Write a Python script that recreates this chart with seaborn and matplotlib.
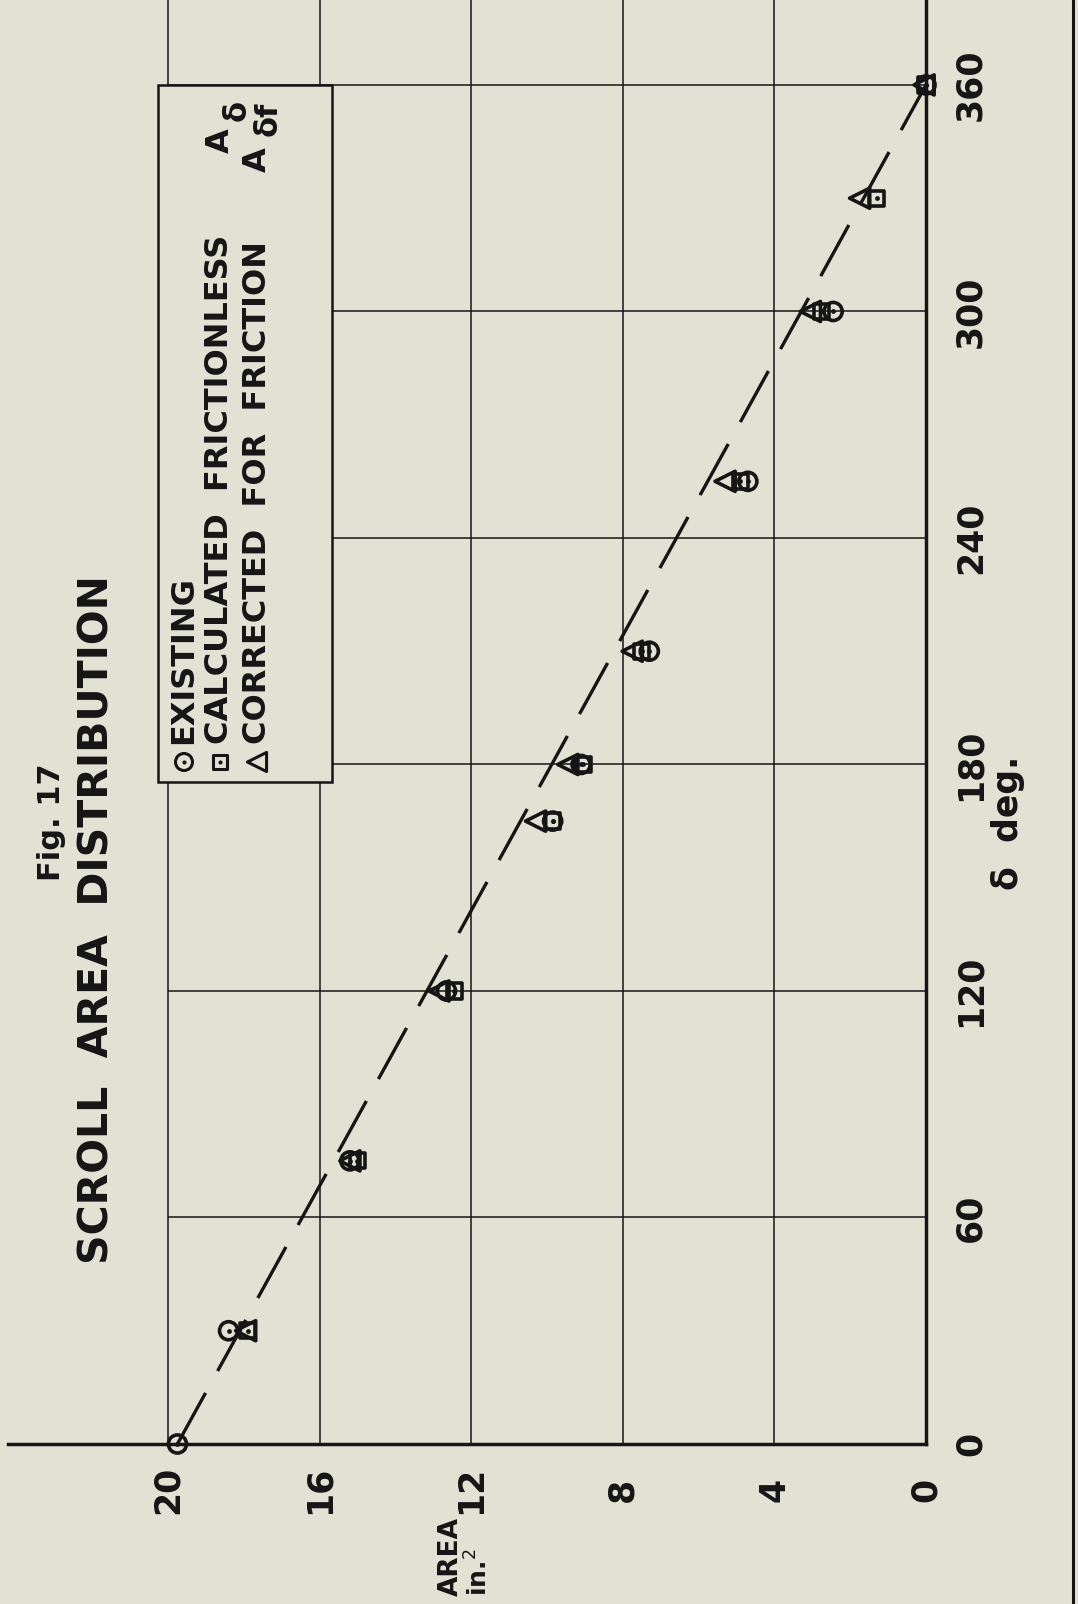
import matplotlib
matplotlib.use("Agg")
import matplotlib.pyplot as plt
from matplotlib.lines import Line2D
from matplotlib.patches import Rectangle
import seaborn as sns
import pandas as pd

# Scroll angle (deg) and cross-section area (sq. in.) for each series
delta_existing = [0, 30, 75, 120, 165, 180, 210, 255, 300, 360]
area_existing = [19.75, 18.4, 15.2, 12.65, 9.85, 9.1, 7.3, 4.7, 2.45, 0.0]

delta_calc = [30, 75, 120, 165, 180, 210, 255, 300, 330, 360]
area_calc = [17.9, 15.0, 12.45, 9.85, 9.05, 7.5, 4.9, 2.75, 1.3, 0.0]

delta_corr = [30, 75, 120, 165, 180, 210, 255, 300, 330, 360]
area_corr = [17.95, 15.2, 12.85, 10.3, 9.45, 7.75, 5.3, 3.05, 1.75, 0.05]

# straight design line from the inlet area down to zero at 360 deg
delta_line = [0, 360]
area_line = [19.75, 0.0]

area_ticks = [0, 4, 8, 12, 16, 20]
area_ticklabels = ["0", "4", "8", "12", "16", "20"]
delta_ticks = [0, 60, 120, 180, 240, 300, 360]
delta_ticklabels = ["0", "60", "120", "180", "240", "300", "360"]

legend_labels = ["EXISTING", "CALCULATED  FRICTIONLESS", "CORRECTED  FOR  FRICTION"]
legend_symbols = [None, ("A", "\u03b4"), ("A", "\u03b4f")]

BG = "#e1e2d4"
INK = "#151515"

sns.set_style("white")
plt.rcParams["font.family"] = ["DejaVu Sans"]

W, H = 1078, 1604
fig = plt.figure(figsize=(W / 100, H / 100), dpi=100, facecolor=BG)
# the sheet is turned: angle runs up the page, area runs right-to-left
ax = fig.add_axes([8 / W, 160 / H, 918 / W, 1444 / H])
ax.set_facecolor(BG)
ax.set_xlim(24.22, 0)
ax.set_ylim(0, 382.5)


def ax_x(px):
    return (px - 8) / 918


def ax_y(py):
    return (1444 - py) / 1444


for side in ["left", "top"]:
    ax.spines[side].set_visible(False)
for side in ["bottom", "right"]:
    ax.spines[side].set_color(INK)
    ax.spines[side].set_linewidth(2.5)

# grid: area lines run the full height, angle lines stop at area 20
ax.set_xticks(area_ticks)
ax.grid(axis="x", color=INK, linewidth=1.1)
ax.grid(axis="y", visible=False)
ax.hlines(delta_ticks[1:], 0, 20, color=INK, linewidth=1.1, zorder=1)

ax.xaxis.set_ticks_position("bottom")
ax.yaxis.tick_right()
ax.set_yticks(delta_ticks)
ax.set_xticklabels(area_ticklabels, rotation=90, fontsize=25, fontweight="bold",
                   color=INK, va="center", ha="center")
ax.set_yticklabels(delta_ticklabels, rotation=90, fontsize=25, fontweight="bold",
                   color=INK, va="center", ha="center")
ax.tick_params(axis="x", length=0, pad=33)
ax.tick_params(axis="y", length=0, pad=32, labelright=True, labelleft=False)

# dashed design line
sns.lineplot(x=area_line, y=delta_line, ax=ax, sort=False, estimator=None,
             color=INK, linewidth=2.4, zorder=3)
ax.lines[-1].set_linestyle((0, (17.5, 7.5)))

# measured / computed points
df_e = pd.DataFrame({"area": area_existing, "delta": delta_existing})
df_c = pd.DataFrame({"area": area_calc, "delta": delta_calc})
df_f = pd.DataFrame({"area": area_corr, "delta": delta_corr})

mk = dict(facecolor="none", edgecolor=INK, linewidth=2.6, zorder=5, clip_on=False)
sns.scatterplot(data=df_f, x="area", y="delta", marker="<", s=210, ax=ax, **mk)
sns.scatterplot(data=df_c, x="area", y="delta", marker="s", s=120, ax=ax, **mk)
sns.scatterplot(data=df_e, x="area", y="delta", marker="o", s=170, ax=ax, **mk)
dot = dict(color=INK, s=12, linewidth=0, zorder=6, clip_on=False)
sns.scatterplot(data=df_c, x="area", y="delta", marker="o", ax=ax, **dot)
sns.scatterplot(data=df_e, x="area", y="delta", marker="o", ax=ax, **dot)
ax.set_xlabel("")
ax.set_ylabel("")

# legend box, lettered sideways like the rest of the sheet
ax.add_patch(Rectangle((ax_x(158), ax_y(782)), ax_x(332) - ax_x(158),
                       ax_y(85) - ax_y(782), transform=ax.transAxes,
                       facecolor=BG, edgecolor=INK, linewidth=1.8, zorder=7))
key_px = [184, 220, 257]
key_styles = [
    dict(marker="o", s=150, dot=True),
    dict(marker="s", s=110, dot=True),
    dict(marker="<", s=190, dot=False),
]
sym_pos = [None, (153, 17, 121), (172, 11, 136)]
for kpx, st, lab, sym, sp in zip(key_px, key_styles, legend_labels,
                                  legend_symbols, sym_pos):
    kx = ax_x(kpx)
    ax.scatter([kx], [ax_y(762)], transform=ax.transAxes, marker=st["marker"],
               s=st["s"], facecolor="none", edgecolor=INK, linewidth=2.2, zorder=8)
    if st["dot"]:
        ax.scatter([kx], [ax_y(762)], transform=ax.transAxes, marker="o", s=9,
                   color=INK, linewidth=0, zorder=9)
    ax.text(kx, ax_y(744), lab, transform=ax.transAxes, rotation=90, ha="center",
            va="bottom", fontsize=23, fontweight="bold", color=INK, zorder=9)
    if sym is not None:
        a_start, dx, d_start = sp
        ax.text(kx, ax_y(a_start), sym[0], transform=ax.transAxes, rotation=90,
                ha="center", va="bottom", fontsize=23, fontweight="bold",
                color=INK, zorder=9)
        ax.text(ax_x(kpx + dx), ax_y(d_start), sym[1], transform=ax.transAxes,
                rotation=90, ha="center", va="bottom", fontsize=22,
                fontweight="bold", color=INK, zorder=9)

# title and axis captions
fig.text(51 / W, 1 - 822 / H, "Fig. 17", rotation=90, ha="center", va="center",
         fontsize=22, fontweight="bold", color=INK)
fig.text(98 / W, 1 - 920 / H, "SCROLL  AREA  DISTRIBUTION", rotation=90, ha="center",
         va="center", fontsize=29.5, fontweight="bold", color=INK)
fig.text(1008 / W, 1 - 823 / H, "\u03b4  deg.", rotation=90, ha="center", va="center",
         fontsize=25, fontweight="bold", color=INK)
fig.text(451 / W, 8 / H, "AREA", rotation=90, ha="center", va="bottom",
         fontsize=19, fontweight="bold", color=INK)
fig.text(479 / W, 8 / H, "in.$^2$", rotation=90, ha="center", va="bottom",
         fontsize=18, fontweight="bold", color=INK)

# dark edge of the scanned sheet
fig.add_artist(Line2D([1073 / W, 1073 / W], [0, 1], transform=fig.transFigure,
                      color=INK, linewidth=2.2))

fig.savefig("out.png", dpi=100, facecolor=BG)
